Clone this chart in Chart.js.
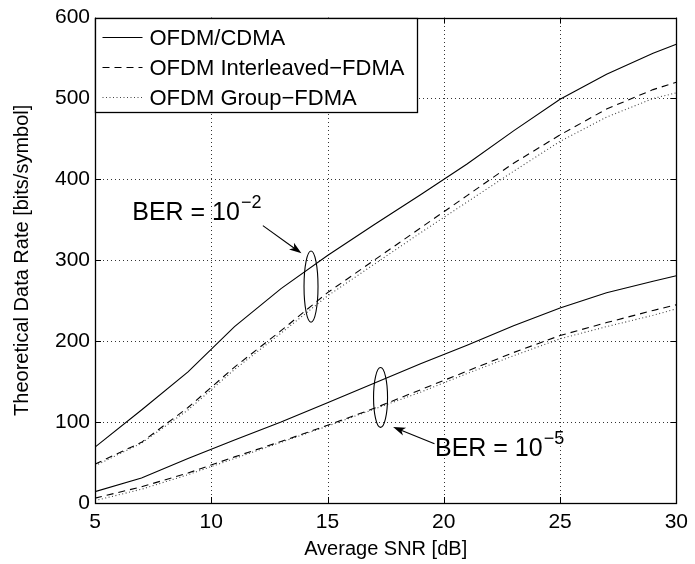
<!DOCTYPE html>
<html>
<head>
<meta charset="utf-8">
<script src="https://cdn.jsdelivr.net/npm/chart.js@4.4.0/dist/chart.umd.min.js"></script>
<style>
  body { margin: 0; background: #fff; }
  #wrap { width: 695px; height: 564px; }
</style>
</head>
<body>
<div id="wrap"><canvas id="rateChart" width="695" height="564"></canvas></div>
<script>
// SNR軸 (dB)
const snr = [5, 7, 9, 11, 13, 15, 17, 19, 21, 23, 25, 27, 29, 30];

// BER = 10^-2
const cdmaHigh        = [69, 115, 162, 218, 265, 306, 344, 381, 419, 460, 499, 530, 556, 567];
const interleavedHigh = [48, 75, 118, 168, 213, 260, 300, 340, 380, 420, 455, 487, 511, 520];
const groupHigh       = [46, 74, 115, 165, 210, 256, 295, 334, 372, 410, 447, 477, 500, 507];

// BER = 10^-5
const cdmaLow        = [14, 31, 55, 78, 100, 124, 148, 172, 195, 219, 241, 260, 274, 281];
const interleavedLow = [6, 20, 37, 57, 76, 96, 117, 140, 163, 186, 207, 223, 238, 245];
const groupLow       = [3, 17, 35, 55, 75, 95, 116, 137, 160, 182, 203, 218, 232, 240];

const seriesNames = ['OFDM/CDMA', 'OFDM Interleaved\u2212FDMA', 'OFDM Group\u2212FDMA'];
const xTicks = [5, 10, 15, 20, 25, 30];
const yTicks = [0, 100, 200, 300, 400, 500, 600];

// 注記 (データ座標)
const noteLabel = ['BER = 10', 'BER = 10'];
const noteExp = ['\u22122', '\u22125'];
const notePos = [[6.6, 350], [19.62, 57.7]];
const ellipseCenter = [[14.29, 267.5], [17.28, 130.5]];
const ellipseHalfHeight = [44, 37];
const arrowFrom = [[12.22, 342.8], [19.6, 73.3]];
const arrowTo = [[13.88, 308.6], [17.82, 93.8]];

const FONT = '"Liberation Sans", Arial, Helvetica, sans-serif';
const dashStyles = [[], [7, 5], [1, 2.5]];

function toPoints(ys) {
    return snr.map(function(x, i) { return { x: x, y: ys[i] }; });
}

function makeSet(label, ys, style) {
    return {
        label: label,
        data: toPoints(ys),
        borderColor: style == 2 ? '#444' : '#000',
        borderWidth: 1.1,
        borderDash: dashStyles[style],
        pointRadius: 0,
        tension: 0,
        fill: false
    };
}

// 点線グリッド
const dottedGrid = {
    id: 'dottedGrid',
    beforeDatasetsDraw: function(chart) {
        const ctx = chart.ctx;
        const a = chart.chartArea;
        const xs = chart.scales.x;
        const ys = chart.scales.y;
        ctx.save();
        ctx.strokeStyle = 'rgba(0,0,0,0.8)';
        ctx.lineWidth = 1;
        ctx.setLineDash([1, 3]);
        ctx.beginPath();
        xTicks.forEach(function(v) {
            const px = Math.round(xs.getPixelForValue(v)) + 0.5;
            ctx.moveTo(px, a.bottom); ctx.lineTo(px, a.top);
        });
        yTicks.forEach(function(v) {
            const py = Math.round(ys.getPixelForValue(v)) + 0.5;
            ctx.moveTo(a.left, py); ctx.lineTo(a.right, py);
        });
        ctx.stroke();
        ctx.restore();
    }
};

// 枠・目盛・凡例・注記
const matlabDecor = {
    id: 'matlabDecor',
    afterDatasetsDraw: function(chart) {
        const ctx = chart.ctx;
        const a = chart.chartArea;
        const xs = chart.scales.x;
        const ys = chart.scales.y;

        ctx.save();
        ctx.strokeStyle = '#000';
        ctx.lineWidth = 1;
        ctx.setLineDash([]);

        // 内向き目盛
        ctx.beginPath();
        yTicks.forEach(function(v) {
            const py = Math.round(ys.getPixelForValue(v)) + 0.5;
            ctx.moveTo(a.left, py); ctx.lineTo(a.left + 6, py);
            ctx.moveTo(a.right, py); ctx.lineTo(a.right - 6, py);
        });
        xTicks.forEach(function(v) {
            const px = Math.round(xs.getPixelForValue(v)) + 0.5;
            ctx.moveTo(px, a.bottom); ctx.lineTo(px, a.bottom - 6);
            ctx.moveTo(px, a.top); ctx.lineTo(px, a.top + 6);
        });
        ctx.stroke();

        // 外枠
        ctx.lineWidth = 1.3;
        ctx.strokeRect(Math.round(a.left) + 0.5, Math.round(a.top) + 0.5,
            Math.round(a.right - a.left), Math.round(a.bottom - a.top));

        // 凡例
        const lx = Math.round(a.left) + 0.5, ly = Math.round(a.top) + 0.5;
        ctx.fillStyle = '#fff';
        ctx.fillRect(lx, ly, 322, 94);
        ctx.strokeRect(lx, ly, 322, 94);
        ctx.font = '22px ' + FONT;
        ctx.textBaseline = 'middle';
        for (let i = 0; i < 3; i++) {
            const ds = chart.data.datasets[i];
            const ry = ly + 19 + i * 30;
            ctx.beginPath();
            ctx.strokeStyle = ds.borderColor;
            ctx.lineWidth = 1.1;
            ctx.setLineDash(ds.borderDash);
            ctx.moveTo(lx + 7, ry); ctx.lineTo(lx + 47, ry);
            ctx.stroke();
            ctx.setLineDash([]);
            ctx.fillStyle = '#000';
            ctx.fillText(ds.label, lx + 54, ry + 1);
        }

        // 楕円と矢印
        ctx.strokeStyle = '#000';
        ctx.fillStyle = '#000';
        ctx.lineWidth = 1.1;
        for (let i = 0; i < 2; i++) {
            const cx = xs.getPixelForValue(ellipseCenter[i][0]);
            const cy = ys.getPixelForValue(ellipseCenter[i][1]);
            const rh = Math.abs(ys.getPixelForValue(ellipseHalfHeight[i]) - ys.getPixelForValue(0));
            ctx.beginPath();
            ctx.ellipse(cx, cy, 7, rh, 0, 0, Math.PI * 2);
            ctx.stroke();

            const x0 = xs.getPixelForValue(arrowFrom[i][0]), y0 = ys.getPixelForValue(arrowFrom[i][1]);
            const x1 = xs.getPixelForValue(arrowTo[i][0]), y1 = ys.getPixelForValue(arrowTo[i][1]);
            const ang = Math.atan2(y1 - y0, x1 - x0);
            ctx.beginPath();
            ctx.moveTo(x0, y0);
            ctx.lineTo(x1 - 8 * Math.cos(ang), y1 - 8 * Math.sin(ang));
            ctx.stroke();
            ctx.beginPath();
            ctx.moveTo(x1, y1);
            ctx.lineTo(x1 - 13 * Math.cos(ang - 0.33), y1 - 13 * Math.sin(ang - 0.33));
            ctx.lineTo(x1 - 9 * Math.cos(ang), y1 - 9 * Math.sin(ang));
            ctx.lineTo(x1 - 13 * Math.cos(ang + 0.33), y1 - 13 * Math.sin(ang + 0.33));
            ctx.closePath();
            ctx.fill();

            // テキスト (指数つき)
            const tx = xs.getPixelForValue(notePos[i][0]);
            const ty = ys.getPixelForValue(notePos[i][1]);
            ctx.textBaseline = 'alphabetic';
            ctx.font = '25px ' + FONT;
            ctx.fillText(noteLabel[i], tx, ty);
            const w = ctx.measureText(noteLabel[i]).width;
            ctx.font = '18px ' + FONT;
            ctx.fillText(noteExp[i], tx + w + 1, ty - 12);
        }
        ctx.restore();
    }
};

const datasets = [
    makeSet(seriesNames[0], cdmaHigh, 0),
    makeSet(seriesNames[1], interleavedHigh, 1),
    makeSet(seriesNames[2], groupHigh, 2),
    makeSet(seriesNames[0], cdmaLow, 0),
    makeSet(seriesNames[1], interleavedLow, 1),
    makeSet(seriesNames[2], groupLow, 2)
];

const gridStyle = { display: false, drawTicks: false };

new Chart(document.getElementById('rateChart'), {
    type: 'line',
    data: { datasets: datasets },
    options: {
        responsive: false,
        animation: false,
        layout: { padding: { top: 17, right: 15, left: 0, bottom: 0 } },
        plugins: { legend: { display: false }, tooltip: { enabled: false } },
        scales: {
            x: {
                type: 'linear',
                min: 5, max: 30,
                afterFit: function(s) { s.height = 61; },
                afterBuildTicks: function(s) { s.ticks = xTicks.map(function(v) { return { value: v }; }); },
                grid: gridStyle,
                border: { display: false },
                ticks: { color: '#000', padding: 7, font: { family: FONT, size: 21 }, maxRotation: 0 },
                title: { display: true, text: 'Average SNR [dB]', color: '#000',
                    font: { family: FONT, size: 20 }, padding: { top: 0, bottom: 3 } }
            },
            y: {
                min: 0, max: 600,
                afterFit: function(s) { s.width = 95; },
                afterBuildTicks: function(s) { s.ticks = yTicks.map(function(v) { return { value: v }; }); },
                grid: gridStyle,
                border: { display: false },
                ticks: { color: '#000', padding: 5, font: { family: FONT, size: 21 } },
                title: { display: true, text: 'Theoretical Data Rate [bits/symbol]', color: '#000',
                    font: { family: FONT, size: 20 }, padding: { top: 10, bottom: 0 } }
            }
        }
    },
    plugins: [dottedGrid, matlabDecor]
});
</script>
</body>
</html>
